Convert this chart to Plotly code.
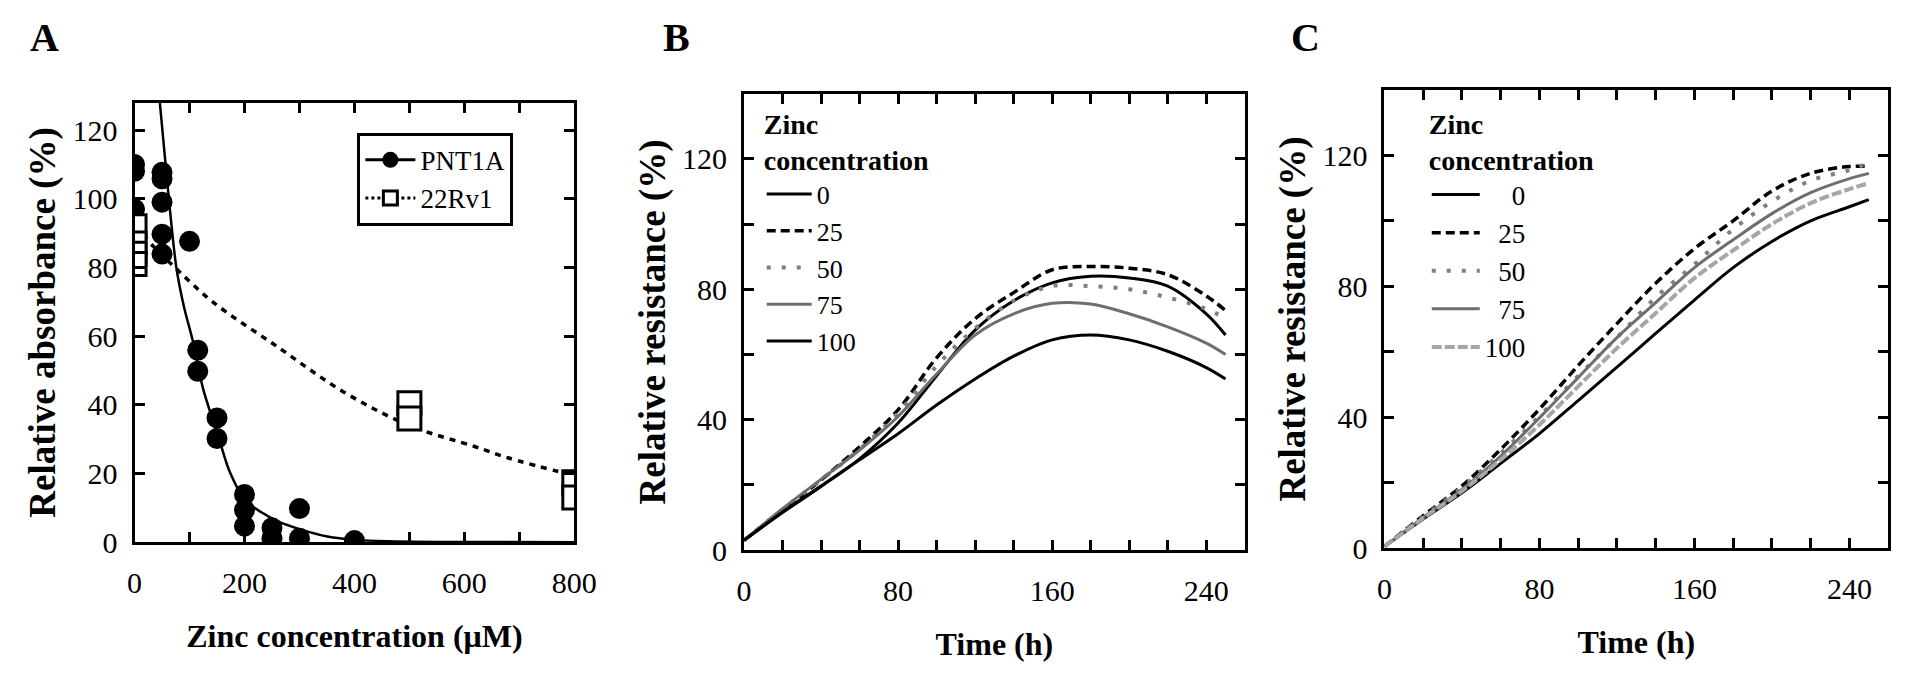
import plotly.graph_objects as go

# ---- Panel A: relative absorbance vs zinc concentration ----
pnt1a_x = [0, 0, 0, 50, 50, 50, 50, 50, 100, 115, 115, 150, 150,
           200, 200, 200, 250, 250, 300, 300, 400]
pnt1a_y = [110, 108, 97, 107.7, 105.8, 99, 89.7, 83.9, 87.6, 55.9, 49.8, 36.2, 30.2,
           13.9, 9.4, 4.7, 4.2, 1.2, 9.8, 1.2, 0.5]
rv1_x = [0, 0, 0, 0, 500, 500, 800, 800]
rv1_y = [92, 87, 84, 81, 40.5, 36, 17.5, 13]

# fitted curves
pnt1a_fit_x = [46, 60, 76, 90, 106, 125, 154, 172, 202, 230, 261, 303, 351, 402, 460, 550, 800]
pnt1a_fit_y = [128, 104, 80, 68.5, 58.6, 44.5, 30.0, 21.0, 12.1, 8.8, 6.1, 3.7, 1.7, 0.7, 0.3, 0.1, 0]
rv1_fit_x = [0, 35, 76, 142, 261, 381, 500, 620, 679, 800]
rv1_fit_y = [92, 86, 79.6, 70, 56.8, 43.7, 34, 27.8, 24.6, 19.4]

a_xticks = [0, 100, 200, 300, 400, 500, 600, 700, 800]
a_xlabels = ['0', '', '200', '', '400', '', '600', '', '800']
a_yticks = [0, 20, 40, 60, 80, 100, 120]
a_ylabels = ['0', '20', '40', '60', '80', '100', '120']

# ---- Panels B and C: relative resistance vs time ----
time_h = [0, 20, 40, 60, 80, 100, 120, 140, 160, 180, 200, 220, 240, 250]
zinc_levels = ['0', '25', '50', '75', '100']

b_0 = [3, 11.5, 19.5, 28, 39, 53.5, 67.5, 76.5, 82, 84, 83.5, 81, 72.5, 66]
b_25 = [3, 12.2, 21.5, 31.7, 43, 59, 71, 79, 86, 87, 86.5, 84.5, 78, 73.5]
b_50 = [3, 12.5, 21.5, 31, 42, 56.5, 68, 76.5, 81, 81, 80, 77.5, 74, 71]
b_75 = [3, 12.7, 21.7, 30.7, 41, 54, 66, 72.5, 75.7, 75.5, 72.5, 68.5, 63.5, 60]
b_100 = [3, 11.7, 19.7, 27.7, 35.7, 44.5, 52.5, 59.5, 64.5, 66, 64.5, 61, 56, 52.5]

c_0 = [0.5, 8.9, 16.9, 25.9, 35, 45.1, 55.3, 65.6, 75.8, 85.7, 93.7, 100, 104.3, 106.5]
c_25 = [0.5, 9.9, 19, 30.2, 42.5, 55.8, 68.6, 80.9, 91.5, 100, 109.1, 114.5, 116.6, 116.6]
c_50 = [0.5, 9.6, 18.5, 29, 40.3, 52.6, 64.3, 76.6, 86.7, 97.4, 105.9, 112.3, 115.5, 117.7]
c_75 = [0.5, 9.4, 17.9, 28.1, 39.8, 52.1, 64.3, 75, 85.7, 94.2, 102.2, 108.6, 112.9, 114.5]
c_100 = [0.5, 9.2, 17.4, 27, 37.7, 49.4, 61.1, 71.8, 82.5, 91, 99, 105.4, 109.7, 111.5]

t_ticks = [0, 20, 40, 60, 80, 100, 120, 140, 160, 180, 200, 220, 240, 260]
t_labels = ['0', '', '', '', '80', '', '', '', '160', '', '', '', '240', '']
r_ticks = [0, 20, 40, 60, 80, 100, 120, 140]
r_labels = ['0', '', '40', '', '80', '', '120', '']

SERIF = 'Liberation Serif'
W, H = 1913, 679

# line styles per zinc level
b_styles = [dict(color='black', width=3),
            dict(color='black', width=3.5, dash='9px,5px'),
            dict(color='#7f7f7f', width=4, dash='4px,11px'),
            dict(color='#6e6e6e', width=3),
            dict(color='black', width=3)]
c_styles = [dict(color='black', width=3),
            dict(color='black', width=3.5, dash='9px,5px'),
            dict(color='#7f7f7f', width=4, dash='4px,11px'),
            dict(color='#6e6e6e', width=3),
            dict(color='#a6a6a6', width=4, dash='10px,3px')]

fig = go.Figure()

# A: curves first, then points
fig.add_trace(go.Scatter(x=pnt1a_fit_x, y=pnt1a_fit_y, mode='lines',
                         line=dict(color='black', width=2.5, shape='spline', smoothing=0.8),
                         showlegend=False, xaxis='x', yaxis='y'))
fig.add_trace(go.Scatter(x=rv1_fit_x, y=rv1_fit_y, mode='lines',
                         line=dict(color='black', width=3.5, dash='6px,6px', shape='spline'),
                         showlegend=False, xaxis='x', yaxis='y'))
fig.add_trace(go.Scatter(x=pnt1a_x, y=pnt1a_y, mode='markers',
                         marker=dict(symbol='circle', size=21, color='black'),
                         showlegend=False, xaxis='x', yaxis='y'))
fig.add_trace(go.Scatter(x=rv1_x, y=rv1_y, mode='markers',
                         marker=dict(symbol='square', size=23, color='white',
                                     line=dict(color='black', width=3)),
                         showlegend=False, xaxis='x', yaxis='y'))
# legend keys for A
fig.add_trace(go.Scatter(x=[None], y=[None], mode='lines+markers', name='PNT1A',
                         line=dict(color='black', width=3),
                         marker=dict(symbol='circle', size=16, color='black'),
                         legend='legend', xaxis='x', yaxis='y'))
fig.add_trace(go.Scatter(x=[None], y=[None], mode='lines+markers', name='22Rv1',
                         line=dict(color='black', width=3, dash='3px,3px'),
                         marker=dict(symbol='square', size=14, color='white',
                                     line=dict(color='black', width=3)),
                         legend='legend', xaxis='x', yaxis='y'))

# B
for name, ys, st in zip(zinc_levels, [b_0, b_25, b_50, b_75, b_100], b_styles):
    fig.add_trace(go.Scatter(x=time_h, y=ys, mode='lines', name=name,
                             line=dict(shape='spline', **st),
                             legend='legend2', xaxis='x2', yaxis='y2'))

# C (labels right aligned with figure spaces)
for name, ys, st in zip(zinc_levels, [c_0, c_25, c_50, c_75, c_100], c_styles):
    label = '\u2007' * (3 - len(name)) + name
    fig.add_trace(go.Scatter(x=time_h, y=ys, mode='lines', name=label,
                             line=dict(shape='spline', **st),
                             legend='legend3', xaxis='x3', yaxis='y3'))

tickfont = dict(family=SERIF, size=30, color='black')


def frame(domain, rng, tickvals, ticktext, title, anchor, size, standoff, label_off):
    return dict(domain=domain, range=rng, anchor=anchor,
                tickmode='array', tickvals=tickvals, ticktext=ticktext,
                showline=True, linewidth=3, linecolor='black', mirror='ticks',
                ticks='inside', ticklen=10, tickwidth=3, tickcolor='black',
                showgrid=False, zeroline=False, tickfont=tickfont,
                ticklabelstandoff=label_off,
                title=dict(text=title, standoff=standoff,
                           font=dict(family=SERIF, size=size, color='black', weight='bold')))


legend_title = dict(text='Zinc<br>concentration',
                    font=dict(family=SERIF, size=28, color='black', weight='bold'))

fig.update_layout(
    width=W, height=H, autosize=False,
    margin=dict(l=0, r=0, t=0, b=0),
    paper_bgcolor='white', plot_bgcolor='white',
    font=dict(family=SERIF, color='black'),
    xaxis=frame([120.5 / W, 567.5 / W], [0, 800], a_xticks, a_xlabels,
                'Zinc concentration (\u03bcM)', 'y', 32, 27, 12),
    yaxis=frame([1 - 548 / H, 1 - 97 / H], [0, 128], a_yticks, a_ylabels,
                'Relative absorbance (%)', 'x', 37, 6, 8),
    xaxis2=frame([740 / W, 1249 / W], [0, 260], t_ticks, t_labels,
                 'Time (h)', 'y2', 32, 27, 12),
    yaxis2=frame([1 - 556 / H, 1 - 88 / H], [0, 140], r_ticks, r_labels,
                 'Relative resistance (%)', 'x2', 37, 6, 8),
    xaxis3=frame([1391 / W, 1903 / W], [0, 260], t_ticks, t_labels,
                 'Time (h)', 'y3', 32, 27, 12),
    yaxis3=frame([1 - 554 / H, 1 - 84 / H], [0, 140], r_ticks, r_labels,
                 'Relative resistance (%)', 'x3', 37, 6, 8),
    legend=dict(x=347 / W, y=1 - 128 / H, xanchor='left', yanchor='top',
                bgcolor='white', bordercolor='black', borderwidth=3,
                font=dict(family=SERIF, size=27, color='black'), itemwidth=50),
    legend2=dict(x=758 / W, y=1 - 92 / H, xanchor='left', yanchor='top',
                 bgcolor='rgba(0,0,0,0)', borderwidth=0,
                 font=dict(family=SERIF, size=26, color='black'), itemwidth=45,
                 title=legend_title),
    legend3=dict(x=1434 / W, y=1 - 92 / H, xanchor='left', yanchor='top',
                 bgcolor='rgba(0,0,0,0)', borderwidth=0,
                 font=dict(family=SERIF, size=27, color='black'), itemwidth=48,
                 title=legend_title),
    annotations=[
        dict(text=letter, x=xp / W, y=1 - 30 / H, xref='paper', yref='paper',
             xanchor='center', yanchor='middle', showarrow=False,
             font=dict(family=SERIF, size=40, color='black', weight='bold'))
        for letter, xp in [('A', 29), ('B', 671), ('C', 1311)]
    ],
)

fig.write_html('out.html', config={'displayModeBar': False})
